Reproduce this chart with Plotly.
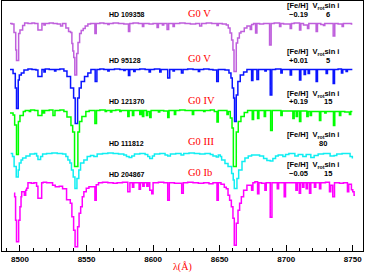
import plotly.graph_objects as go

# ---------------- data ----------------
stars = ["HD 109358", "HD 95128", "HD 121370", "HD 111812", "HD 204867"]
sptypes = ["G0 V", "G0 V", "G0 IV", "G0 III", "G0 Ib"]
feh = ["\u22120.19", "+0.01", "+0.19", "", "\u22120.05"]
vsini = ["6", "5", "15", "80", "15"]
x_ticks = [8500, 8550, 8600, 8650, 8700, 8750]

wl_hd109358 = [8492.5, 8494.0, 8495.5, 8496.8, 8497.4, 8499.0, 8500.0, 8502.0, 8503.5, 8506.0, 8509.0, 8511.0,
               8513.5, 8516.5, 8518.0, 8519.0, 8522.0, 8525.0, 8528.0, 8530.5, 8532.0, 8534.5, 8536.5, 8538.0,
               8539.0, 8539.7, 8540.4, 8541.2, 8542.6, 8543.6, 8544.8, 8546.0, 8547.5, 8549.0, 8551.0, 8553.0,
               8556.3, 8557.3, 8560.0, 8563.0, 8566.0, 8567.0, 8570.0, 8574.0, 8578.0, 8581.5, 8582.5, 8585.0,
               8589.0, 8592.0, 8593.0, 8597.0, 8600.0, 8603.0, 8604.0, 8607.0, 8608.0, 8610.5, 8611.7, 8615.0,
               8616.0, 8620.0, 8624.0, 8628.0, 8632.0, 8635.0, 8636.5, 8640.0, 8644.0, 8648.0, 8649.0, 8652.0,
               8655.0, 8656.5, 8657.8, 8659.0, 8660.0, 8660.8, 8662.5, 8663.5, 8664.8, 8666.0, 8668.5, 8670.5,
               8673.0, 8674.0, 8675.5, 8677.0, 8678.0, 8680.0, 8683.0, 8687.5, 8688.7, 8691.0, 8695.0, 8696.0,
               8698.0, 8703.0, 8704.0, 8706.0, 8710.0, 8711.0, 8713.0, 8716.0, 8717.0, 8719.0, 8722.5, 8723.5,
               8726.0, 8728.0, 8729.0, 8732.0, 8735.3, 8736.5, 8739.0, 8742.0, 8743.0, 8746.0, 8749.0, 8749.7]
fx_hd109358 = [1.00, 0.99, 0.82, 0.47, 0.26, 0.80, 0.87, 0.96, 1.01, 1.00, 1.01, 1.00,
               0.87, 1.00, 0.97, 1.00, 1.01, 1.00, 0.99, 0.95, 1.00, 0.91, 0.84, 0.82,
               0.60, 0.45, 0.32, -0.03, 0.40, 0.62, 0.80, 0.86, 0.90, 0.95, 0.99, 1.00,
               0.80, 1.00, 1.01, 1.00, 0.98, 1.00, 1.01, 1.00, 0.99, 0.84, 1.00, 1.01,
               1.00, 0.94, 1.00, 0.99, 1.00, 0.92, 1.00, 0.97, 1.00, 0.88, 1.00, 0.94,
               1.00, 1.01, 1.00, 0.99, 1.00, 0.95, 1.00, 1.01, 1.00, 0.96, 1.00, 0.99,
               0.97, 0.91, 0.81, 0.67, 0.47, 0.04, 0.61, 0.71, 0.81, 0.84, 0.91, 0.95,
               0.88, 0.98, 1.00, 0.81, 1.00, 0.99, 1.00, 0.57, 1.00, 1.01, 0.94, 1.00,
               0.99, 0.90, 1.00, 1.01, 0.87, 1.00, 0.97, 0.90, 1.00, 1.00, 0.84, 1.00,
               0.98, 0.96, 1.00, 1.00, 0.75, 1.00, 0.99, 0.94, 1.00, 1.00, 0.99, 0.99]

wl_hd95128 = [8492.5, 8494.8, 8496.5, 8497.4, 8498.7, 8499.5, 8501.0, 8503.0, 8506.0, 8509.0, 8512.0, 8513.5,
              8516.5, 8518.0, 8519.0, 8522.0, 8526.0, 8527.0, 8530.0, 8533.0, 8535.3, 8538.0, 8540.3, 8541.5,
              8543.3, 8544.5, 8546.0, 8548.5, 8551.0, 8553.3, 8556.5, 8557.8, 8560.0, 8563.0, 8566.0, 8567.0,
              8571.0, 8575.0, 8578.0, 8579.0, 8581.5, 8582.5, 8585.5, 8586.5, 8590.0, 8594.0, 8597.0, 8598.0,
              8601.0, 8605.0, 8606.0, 8611.0, 8612.5, 8615.0, 8616.0, 8621.3, 8622.5, 8626.0, 8630.0, 8634.0,
              8635.0, 8638.0, 8642.0, 8645.0, 8647.8, 8649.0, 8651.0, 8654.0, 8657.0, 8658.5, 8659.5, 8660.5,
              8661.2, 8662.5, 8663.7, 8665.5, 8668.0, 8670.5, 8674.0, 8675.0, 8678.0, 8679.2, 8681.0, 8684.0,
              8685.0, 8688.0, 8689.2, 8692.0, 8696.0, 8697.0, 8700.0, 8703.0, 8704.0, 8707.0, 8710.0, 8711.0,
              8713.5, 8714.5, 8716.5, 8717.5, 8720.0, 8722.5, 8723.5, 8726.0, 8730.0, 8731.0, 8733.0, 8735.3,
              8736.3, 8739.0, 8741.5, 8742.5, 8745.0, 8746.0, 8749.0, 8749.7]
fx_hd95128 = [1.00, 0.92, 0.63, 0.22, 0.79, 0.89, 0.93, 0.99, 1.01, 1.00, 0.99, 0.86,
              1.00, 0.95, 1.01, 1.00, 0.97, 1.00, 1.01, 0.97, 0.86, 0.63, 0.43, -0.08,
              0.43, 0.63, 0.76, 0.86, 0.93, 1.00, 0.76, 1.00, 1.01, 1.00, 0.97, 1.00,
              1.01, 1.00, 0.98, 1.00, 0.88, 1.00, 0.96, 1.00, 1.01, 1.00, 0.95, 1.00,
              1.01, 0.95, 1.00, 0.83, 1.00, 0.97, 1.00, 0.93, 1.00, 1.01, 1.00, 0.96,
              1.00, 1.01, 1.00, 0.99, 0.76, 1.00, 1.00, 0.99, 0.93, 0.83, 0.63, 0.43,
              -0.04, 0.49, 0.76, 0.89, 0.95, 1.00, 0.78, 1.00, 0.80, 1.00, 1.00, 0.97,
              1.00, 0.49, 1.00, 1.01, 0.93, 1.00, 1.00, 0.89, 1.00, 1.00, 0.79, 1.00,
              0.90, 1.00, 0.92, 1.00, 1.00, 0.76, 1.00, 1.00, 0.92, 1.00, 1.00, 0.72,
              1.00, 1.01, 0.93, 1.00, 0.96, 1.00, 1.00, 1.00]

wl_hd121370 = [8492.5, 8494.8, 8496.0, 8497.4, 8498.8, 8500.0, 8502.5, 8504.0, 8507.0, 8508.0, 8511.0, 8513.5,
               8516.5, 8517.5, 8518.5, 8522.0, 8524.8, 8526.3, 8530.0, 8533.0, 8535.3, 8538.3, 8539.6, 8541.0,
               8543.5, 8544.7, 8546.5, 8549.5, 8552.0, 8556.3, 8557.5, 8560.0, 8564.0, 8565.0, 8568.0, 8569.0,
               8572.0, 8575.0, 8576.0, 8579.0, 8581.0, 8582.0, 8584.5, 8585.5, 8590.0, 8591.0, 8592.0, 8593.0,
               8595.0, 8596.0, 8597.5, 8598.5, 8601.0, 8604.0, 8605.0, 8608.0, 8611.0, 8612.0, 8616.0, 8617.0,
               8620.0, 8624.0, 8629.5, 8630.5, 8634.0, 8638.0, 8639.0, 8643.0, 8646.0, 8648.0, 8649.0, 8652.0,
               8655.5, 8656.5, 8658.0, 8659.3, 8660.3, 8662.5, 8664.0, 8666.0, 8668.5, 8671.0, 8674.5, 8675.5,
               8678.5, 8679.5, 8683.5, 8684.5, 8688.3, 8689.5, 8692.0, 8696.0, 8697.0, 8700.0, 8705.0, 8706.0,
               8707.5, 8708.5, 8710.0, 8711.0, 8715.5, 8716.5, 8718.0, 8719.0, 8725.0, 8726.0, 8729.0, 8730.0,
               8735.5, 8736.5, 8740.0, 8741.0, 8744.0, 8747.5, 8748.5, 8749.7]
fx_hd121370 = [0.95, 0.91, 0.71, 0.12, 0.78, 0.90, 0.98, 1.00, 0.98, 1.01, 1.00, 0.90,
               1.00, 0.95, 1.00, 1.01, 0.90, 1.00, 1.01, 0.98, 0.87, 0.70, 0.57, -0.12,
               0.57, 0.78, 0.88, 0.98, 1.00, 0.74, 1.00, 1.01, 0.98, 1.00, 0.97, 1.00,
               1.01, 0.98, 1.00, 1.00, 0.88, 1.00, 0.90, 1.00, 0.92, 1.00, 0.88, 1.00,
               0.90, 0.98, 0.86, 1.00, 1.00, 0.97, 1.00, 0.99, 0.86, 1.00, 0.92, 1.00,
               1.01, 1.00, 0.92, 1.00, 1.00, 0.98, 1.00, 1.01, 0.98, 0.77, 1.00, 1.00,
               0.92, 0.98, 0.85, 0.65, -0.12, 0.57, 0.78, 0.88, 0.96, 1.00, 0.82, 1.00,
               0.84, 1.00, 0.88, 1.00, 0.60, 1.00, 1.00, 0.90, 0.99, 0.99, 0.84, 0.99,
               0.88, 0.99, 0.78, 0.99, 0.88, 0.98, 0.90, 0.98, 0.80, 0.98, 0.95, 0.98,
               0.70, 0.98, 0.90, 0.98, 0.97, 0.92, 0.98, 0.98]

wl_hd111812 = [8493.0, 8494.4, 8495.6, 8497.2, 8498.7, 8499.5, 8500.8, 8502.0, 8504.5, 8507.5, 8511.0, 8512.5,
               8513.5, 8515.5, 8517.0, 8520.0, 8524.0, 8528.0, 8532.0, 8534.5, 8536.0, 8537.5, 8538.7, 8540.0,
               8541.3, 8542.8, 8544.2, 8545.5, 8548.0, 8550.5, 8553.0, 8555.5, 8558.0, 8562.0, 8566.0, 8570.0,
               8574.0, 8578.0, 8580.0, 8582.0, 8584.0, 8586.0, 8590.0, 8594.0, 8596.0, 8597.5, 8599.5, 8601.0,
               8605.0, 8609.0, 8611.0, 8613.0, 8617.0, 8621.0, 8623.0, 8627.0, 8631.0, 8635.0, 8639.0, 8643.0,
               8645.0, 8647.5, 8649.0, 8650.5, 8651.5, 8654.0, 8656.3, 8659.0, 8660.2, 8661.0, 8663.0, 8664.3,
               8666.8, 8669.0, 8671.5, 8674.0, 8680.0, 8683.0, 8685.5, 8688.0, 8690.0, 8692.0, 8694.0, 8697.5,
               8699.5, 8702.0, 8706.5, 8709.0, 8712.5, 8715.0, 8718.5, 8721.0, 8724.0, 8728.0, 8733.0, 8736.0,
               8738.0, 8742.0, 8746.0, 8748.0, 8749.7]
fx_hd111812 = [1.00, 0.94, 0.74, 0.53, 0.67, 0.81, 0.87, 0.91, 0.95, 0.99, 1.00, 0.95,
               0.88, 0.94, 0.99, 1.00, 1.01, 1.00, 0.99, 0.94, 0.87, 0.81, 0.67, 0.53,
               0.30, 0.50, 0.67, 0.81, 0.87, 0.94, 0.96, 0.94, 0.99, 1.00, 1.01, 1.00,
               0.99, 0.97, 0.94, 0.92, 0.95, 0.99, 1.00, 0.98, 0.94, 0.90, 0.95, 0.99,
               1.00, 0.97, 0.95, 0.99, 1.00, 0.97, 1.00, 1.01, 1.00, 0.99, 1.00, 0.98,
               0.95, 0.93, 0.97, 0.94, 0.87, 0.80, 0.74, 0.60, 0.47, 0.30, 0.50, 0.67,
               0.84, 0.91, 0.95, 0.97, 0.95, 0.90, 0.86, 0.85, 0.90, 0.95, 0.97, 0.94,
               0.98, 1.00, 0.95, 0.98, 0.94, 0.98, 0.92, 0.96, 0.99, 1.00, 0.95, 0.96,
               0.99, 1.00, 1.00, 0.94, 0.90]

wl_hd204867 = [8495.5, 8496.0, 8496.7, 8497.4, 8499.0, 8500.0, 8500.8, 8501.3, 8503.3, 8504.3, 8505.0, 8506.0,
               8508.5, 8510.5, 8512.5, 8513.5, 8516.3, 8517.5, 8520.0, 8524.5, 8526.5, 8529.5, 8532.0, 8535.0,
               8537.8, 8539.0, 8540.3, 8541.4, 8543.3, 8544.4, 8545.6, 8546.8, 8548.0, 8549.8, 8551.8, 8556.3,
               8557.3, 8559.0, 8562.0, 8566.0, 8570.0, 8573.0, 8577.0, 8581.0, 8582.6, 8584.5, 8585.5, 8589.5,
               8590.5, 8592.3, 8593.3, 8595.3, 8596.3, 8597.5, 8599.0, 8600.0, 8604.0, 8608.0, 8611.0, 8612.2,
               8616.0, 8621.5, 8622.7, 8626.0, 8630.0, 8634.0, 8638.0, 8642.0, 8645.0, 8648.0, 8649.0, 8651.0,
               8653.5, 8655.0, 8656.3, 8657.5, 8658.8, 8660.0, 8661.0, 8662.5, 8663.8, 8665.0, 8666.3, 8668.0,
               8670.5, 8674.0, 8675.0, 8676.5, 8678.5, 8679.5, 8681.5, 8684.0, 8685.0, 8688.0, 8689.3, 8693.3,
               8694.3, 8698.5, 8699.5, 8703.0, 8707.3, 8708.3, 8709.8, 8710.8, 8712.3, 8713.3, 8715.0, 8716.0,
               8717.5, 8718.5, 8721.2, 8722.2, 8725.0, 8726.0, 8729.5, 8732.5, 8733.5, 8735.0, 8736.3, 8740.0,
               8743.0, 8746.0, 8747.0, 8749.0, 8750.0, 8751.0, 8751.7]
fx_hd204867 = [0.79, 0.72, 0.25, -0.18, 0.25, 0.52, 0.72, 0.82, 0.75, 0.85, 0.89, 1.00,
               0.99, 1.00, 0.93, 0.69, 1.00, 1.01, 1.00, 0.95, 0.92, 0.93, 0.88, 0.66,
               0.59, 0.32, 0.05, -0.28, 0.12, 0.39, 0.52, 0.72, 0.82, 0.89, 0.92, 0.65,
               0.96, 1.00, 1.01, 1.00, 0.99, 1.00, 1.01, 0.82, 1.00, 0.91, 1.00, 0.87,
               1.00, 0.93, 1.00, 0.93, 1.00, 0.85, 0.78, 1.00, 1.01, 1.00, 0.65, 1.00,
               0.99, 0.79, 1.00, 1.01, 1.00, 0.99, 1.00, 0.98, 1.00, 0.65, 1.00, 0.97,
               0.91, 0.88, 0.75, 0.65, 0.52, 0.29, -0.25, 0.19, 0.45, 0.59, 0.72, 0.85,
               0.95, 0.85, 1.00, 1.02, 0.78, 1.00, 0.99, 0.85, 1.00, 0.31, 1.00, 0.88,
               1.00, 0.72, 1.00, 1.00, 0.85, 1.00, 0.79, 1.00, 0.91, 1.00, 0.88, 1.00,
               0.79, 1.00, 0.91, 1.00, 0.88, 1.00, 1.01, 0.82, 0.95, 0.72, 1.00, 0.99,
               1.00, 0.82, 0.97, 0.86, 0.82, 0.75, 0.75]

wavelengths = [wl_hd109358, wl_hd95128, wl_hd121370, wl_hd111812, wl_hd204867]
fluxes = [fx_hd109358, fx_hd95128, fx_hd121370, fx_hd111812, fx_hd204867]

# ---------------- styling / layout ----------------
offsets = [3.55, 2.63, 1.81, 0.95, 0.366]
colors = ["#BF5FDC", "#0A14FF", "#00FF00", "#10EEF2", "#FF00FF"]

W, H = 365, 272
ML, MR, MT, MB = 2, 2, 1, 21
PW, PH = W - ML - MR, H - MT - MB


def paper(px, py):
    return (px - ML) / PW, (H - MB - py) / PH


fig = go.Figure()
for wl, fx, off, col in zip(wavelengths, fluxes, offsets, colors):
    fig.add_trace(go.Scatter(x=wl, y=[f + off for f in fx], mode="lines",
                             line=dict(color=col, width=1.5, shape="hv"),
                             hoverinfo="skip", showlegend=False))

label_font = dict(family="Liberation Sans", size=7, color="black", weight="bold")
small_font = dict(family="Liberation Sans", size=7.5, color="black", weight="bold")
red_font = dict(family="Liberation Serif", size=10.5, color="#FF0000")

hd_y = [14, 60, 101.7, 143.3, 174.3]
sp_y = [13, 58.3, 100, 141, 172.7]
hdr_y = [6, 52.3, 94, 135, 165.5]
val_y = [14.7, 60, 101.7, 143.5, 173.5]
vs_x = [328, 328, 328, 323, 328]

ann = []
for i in range(5):
    x, y = paper(107, hd_y[i])
    ann.append(dict(x=x, y=y, text=stars[i], xanchor="left", yanchor="middle", font=label_font))
    x, y = paper(186, sp_y[i])
    ann.append(dict(x=x, y=y, text=sptypes[i], xanchor="left", yanchor="middle", font=red_font))
    x, y = paper(285, hdr_y[i])
    ann.append(dict(x=x, y=y, text="[Fe/H]  V<sub>rot</sub>sin i", xanchor="left", yanchor="middle",
                    font=small_font))
    if feh[i]:
        x, y = paper(298, val_y[i])
        ann.append(dict(x=x, y=y, text=feh[i], xanchor="center", yanchor="middle", font=small_font))
    x, y = paper(vs_x[i], val_y[i])
    ann.append(dict(x=x, y=y, text=vsini[i], xanchor="center", yanchor="middle", font=small_font))

x, y = paper(182, 266.5)
ann.append(dict(x=x, y=y, text="\u03bb(\u00c5)", xanchor="center", yanchor="middle",
                font=dict(family="Liberation Serif", size=10, color="#FF0000")))

for a in ann:
    a.update(xref="paper", yref="paper", showarrow=False)

fig.update_layout(
    width=W, height=H,
    margin=dict(l=ML, r=MR, t=MT, b=MB, pad=0),
    paper_bgcolor="white", plot_bgcolor="white",
    annotations=ann,
    xaxis=dict(range=[8486.5, 8757.7], tickvals=x_ticks, ticktext=[str(v) for v in x_ticks],
               ticks="inside", ticklen=6, tickwidth=1, tickcolor="black",
               minor=dict(dtick=10, tick0=8500, ticks="inside", ticklen=3, tickwidth=1, tickcolor="black"),
               tickfont=dict(family="Liberation Sans", size=8, color="black", weight="bold"),
               showline=True, linecolor="black", linewidth=1, mirror=True,
               showgrid=False, zeroline=False, automargin=False),
    yaxis=dict(range=[0, 5], showticklabels=False, ticks="", showgrid=False, zeroline=False,
               showline=True, linecolor="black", linewidth=1, mirror=True, automargin=False),
)

fig.write_html("out.html", config={"displayModeBar": False},
               post_script="document.body.style.margin='0';document.body.style.overflow='hidden';")
